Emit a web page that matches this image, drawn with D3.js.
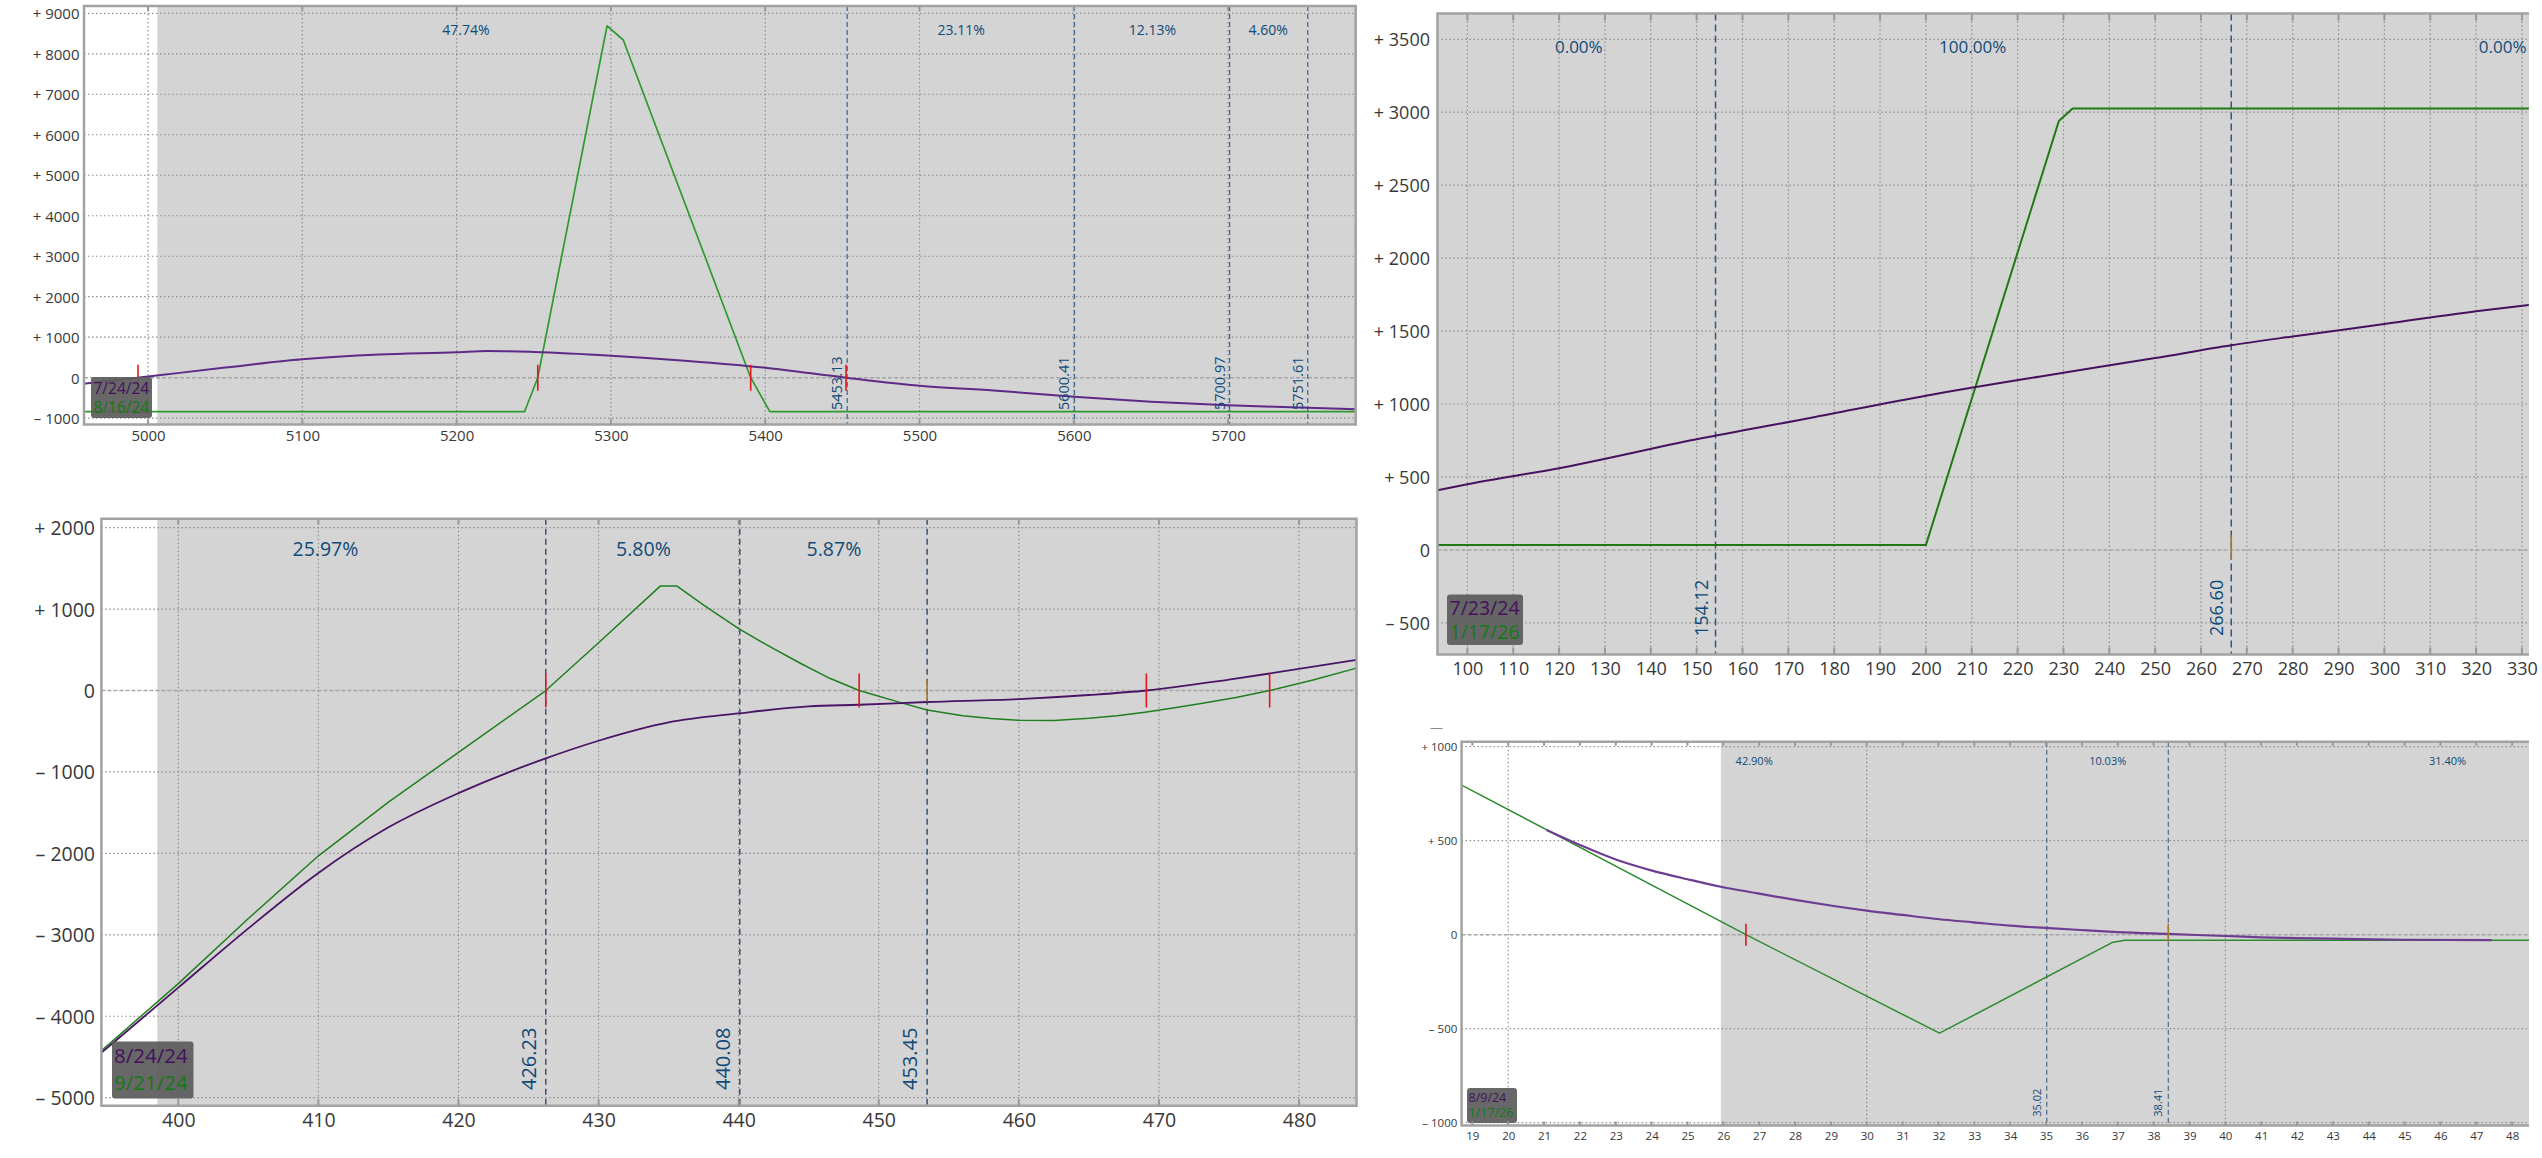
<!DOCTYPE html>
<html><head><meta charset="utf-8">
<script src="https://cdn.jsdelivr.net/npm/d3@7"></script>
<style>html,body{margin:0;padding:0;background:#fff;} svg{display:block}</style>
</head><body>
<svg id="c" width="2542" height="1158"></svg>
<script>
// ================= DATA =================
// Panel A (top-left)
const aXTicks = [5000,5100,5200,5300,5400,5500,5600,5700];
const aYTicks = [-1000,0,1000,2000,3000,4000,5000,6000,7000,8000,9000];
const aDates = ["7/24/24","8/16/24"];
const aPurple = [[4958.5,-150],[4993.5,0],[5000,28],[5050,250],[5100,454],[5150,570],[5200,627],[5220,660],[5250,635],[5300,545],[5350,415],[5400,247],[5452.4,0],[5500,-198],[5550,-321],[5600,-469],[5650,-592],[5700,-682],[5751.6,-741],[5782.7,-781]];
const aGreen = [[4958.5,-840],[5244,-840],[5252.6,0],[5297.5,8690],[5308,8340],[5390.6,0],[5403,-840],[5782.7,-840]];
const aStrikes = [5453.13,5600.41,5700.97,5751.61];
const aProbX = [5206,5527,5651,5726];
const aProbLabels = ["47.74%","23.11%","12.13%","4.60%"];
const aBreakevens = [4993.5,5252.6,5390.6,5452.4];
const aCurrent = [];

// Panel B (top-right)
const bXTicks = [100,110,120,130,140,150,160,170,180,190,200,210,220,230,240,250,260,270,280,290,300,310,320,330];
const bYTicks = [-500,0,500,1000,1500,2000,2500,3000,3500];
const bDates = ["7/23/24","1/17/26"];
const bPurple = [[93.5,409],[100,450],[120,560],[150,758],[175,906],[200,1057],[225,1189],[250,1315],[266.6,1403],[280,1463],[300,1548],[320,1636],[331.5,1678]];
const bGreen = [[93.5,33],[200,33],[229,2940],[232,3025],[331.5,3025]];
const bStrikes = [154.12,266.60];
const bProbX = [124.3,210.2,325.8];
const bProbLabels = ["0.00%","100.00%","0.00%"];
const bBreakevens = [];
const bCurrent = [266.6];

// Panel C (bottom-left)
const cXTicks = [400,410,420,430,440,450,460,470,480];
const cYTicks = [-5000,-4000,-3000,-2000,-1000,0,1000,2000];
const cDates = ["8/24/24","9/21/24"];
const cPurple = [[394.5,-4450],[400,-3649],[405,-2921],[410,-2240],[415,-1680],[420,-1260],[426.23,-833],[430,-617],[435,-392],[440,-281],[445,-195],[448.6,-175],[453.45,-141],[460,-105],[465,-55],[469.1,0],[475,135],[477.9,209],[484.1,375]];
const cGreen = [[394.5,-4425],[400,-3600],[405,-2800],[410,-2030],[415,-1370],[420,-760],[426.23,0],[430,586],[434.4,1282],[435.6,1282],[437.5,1050],[440,761],[442,560],[444.4,335],[446.5,150],[448.6,0],[451.5,-146],[453.45,-240],[456,-310],[458,-345],[460,-366],[462.5,-368],[465,-342],[467,-310],[469,-266],[471,-215],[473,-160],[475.5,-85],[477.9,0],[481,130],[484.1,275]];
const cStrikes = [426.23,440.08,453.45];
const cProbX = [410.5,433.2,446.8];
const cProbLabels = ["25.97%","5.80%","5.87%"];
const cBreakevens = [426.23,448.6,469.1,477.9];
const cCurrent = [453.45];

// Panel D (bottom-right)
const dXTicks = [19,20,21,22,23,24,25,26,27,28,29,30,31,32,33,34,35,36,37,38,39,40,41,42,43,44,45,46,47,48];
const dYTicks = [-1000,-500,0,500,1000];
const dDates = ["8/9/24","1/17/26"];
const dPurple = [[21.07,557],[22.0,477],[23.04,397],[24.01,341],[25.0,295],[25.93,255],[26.96,220],[28.0,185],[29.03,154],[30.0,128],[31.0,105],[32.03,82],[32.96,66],[33.99,48],[34.98,36],[35.96,25],[36.99,14],[38.38,4],[40.0,-7],[41.0,-14],[42.0,-18],[42.98,-21],[44.95,-27],[47.43,-29]];
const dGreen = [[18.7,796],[26.63,0],[32.03,-524],[36.84,-42],[37.2,-30],[48.5,-30]];
const dStrikes = [35.02,38.41];
const dProbX = [26.86,36.72,46.2];
const dProbLabels = ["42.90%","10.03%","31.40%"];
const dBreakevens = [26.63];
const dCurrent = [38.41];

// ================= DRAW =================
const FONT = "'Open Sans', 'DejaVu Sans', sans-serif";
const svg = d3.select("#c");
const defs = svg.append("defs");

function fmtSigned(v){ return v > 0 ? "+ " + v : (v < 0 ? "\u2013 " + (-v) : "0"); }

function drawPanel(c){
  const x = d3.scaleLinear().domain(c.xDom).range([c.L, c.R]);
  const y = d3.scaleLinear().domain(c.yDom).range([c.B, c.T]);
  const g = svg.append("g");
  const clipId = "clip-" + c.id;
  defs.append("clipPath").attr("id", clipId).append("rect")
    .attr("x", c.L).attr("y", c.T).attr("width", c.R - c.L).attr("height", c.B - c.T);
  const p = g.append("g").attr("clip-path", `url(#${clipId})`);

  p.append("rect").attr("x", c.L).attr("y", c.T).attr("width", c.R - c.L).attr("height", c.B - c.T).attr("fill", "#fff");
  p.append("rect").attr("x", x(c.greyFrom)).attr("y", c.T).attr("width", c.R - x(c.greyFrom)).attr("height", c.B - c.T).attr("fill", "#d4d4d4");

  // grid
  p.selectAll(null).data(c.xGrid).join("line")
    .attr("x1", d => x(d)).attr("x2", d => x(d)).attr("y1", c.T).attr("y2", c.B)
    .attr("stroke", "#8e8e8e").attr("stroke-width", 1.2).attr("stroke-dasharray", "1.5,2.5");
  p.selectAll(null).data(c.yTicks.filter(v => v !== 0)).join("line")
    .attr("x1", c.L).attr("x2", c.R).attr("y1", d => y(d)).attr("y2", d => y(d))
    .attr("stroke", "#8e8e8e").attr("stroke-width", 1.2).attr("stroke-dasharray", "1.5,2.5");
  p.append("line").attr("x1", c.L).attr("x2", c.R).attr("y1", y(0)).attr("y2", y(0))
    .attr("stroke", "#a6a6a6").attr("stroke-width", 1.5).attr("stroke-dasharray", "4,2");

  // strike lines
  p.selectAll(null).data(c.strikes).join("line")
    .attr("x1", d => x(d)).attr("x2", d => x(d)).attr("y1", c.T).attr("y2", c.B)
    .attr("stroke", c.strikeColor).attr("stroke-width", c.strikeW).attr("stroke-dasharray", c.strikeDash);

  // curves
  const lineG = d3.line().x(d => x(d[0])).y(d => y(d[1]));
  const lineP = d3.line().x(d => x(d[0])).y(d => y(d[1])).curve(d3.curveMonotoneX);
  p.append("path").datum(c.green).attr("d", lineG).attr("fill", "none")
    .attr("stroke", c.greenColor).attr("stroke-width", c.greenW).attr("stroke-linejoin", "round");
  p.append("path").datum(c.purple).attr("d", lineP).attr("fill", "none")
    .attr("stroke", c.purpleColor).attr("stroke-width", c.purpleW).attr("stroke-linejoin", "round");

  // breakeven / current markers
  p.selectAll(null).data(c.breakevens).join("line")
    .attr("x1", d => x(d)).attr("x2", d => x(d)).attr("y1", y(0) - c.beH).attr("y2", y(0) + c.beH)
    .attr("stroke", "#e2141c").attr("stroke-width", 1.6);
  p.selectAll(null).data(c.current).join("line")
    .attr("x1", d => x(d)).attr("x2", d => x(d)).attr("y1", y(0) - c.curUp).attr("y2", y(0) + c.curDown)
    .attr("stroke", "#a8782a").attr("stroke-width", 1.6);

  // probability labels
  p.selectAll(null).data(c.probX).join("text")
    .attr("x", d => x(d)).attr("y", c.probY).attr("text-anchor", "middle")
    .attr("fill", "#0f4a78").attr("font-family", FONT).attr("font-size", c.probFs)
    .text((d, i) => c.probLabels[i]);

  // strike labels
  p.selectAll(null).data(c.strikes).join("text")
    .attr("transform", d => `translate(${x(d) - c.slOff},${c.slBottom}) rotate(-90)`)
    .attr("fill", "#0f4a78").attr("font-family", FONT).attr("font-size", c.slFs)
    .text(d => d.toFixed(2));

  // legend
  g.append("rect").attr("x", c.leg[0]).attr("y", c.leg[1]).attr("width", c.leg[2]).attr("height", c.leg[3])
    .attr("rx", 3).attr("fill", "#5c5c5c").attr("opacity", 0.93);
  g.append("text").attr("x", c.leg[0] + c.legPad).attr("y", c.legBase[0]).attr("fill", "#44105f")
    .attr("font-family", FONT).attr("font-size", c.legFs).text(c.dates[0]);
  g.append("text").attr("x", c.leg[0] + c.legPad).attr("y", c.legBase[1]).attr("fill", "#137a13")
    .attr("font-family", FONT).attr("font-size", c.legFs).text(c.dates[1]);

  // border
  const bpath = c.closed
    ? `M${c.L},${c.T}H${c.R}V${c.B}H${c.L}Z`
    : `M${c.R},${c.T}H${c.L}V${c.B}H${c.R}`;
  g.append("path").attr("d", bpath).attr("fill", "none").attr("stroke", "#a2a2a2").attr("stroke-width", 2.5);

  // border ticks
  g.selectAll(null).data(c.xTicks).join("line")
    .attr("x1", d => x(d)).attr("x2", d => x(d)).attr("y1", c.T).attr("y2", c.T + c.tickLen)
    .attr("stroke", "#999").attr("stroke-width", 2);
  g.selectAll(null).data(c.xTicks).join("line")
    .attr("x1", d => x(d)).attr("x2", d => x(d)).attr("y1", c.B - c.tickLen).attr("y2", c.B)
    .attr("stroke", "#999").attr("stroke-width", 2);

  // axes labels
  const ax = g.append("g").attr("transform", `translate(0,${c.xLabY})`)
    .call(d3.axisBottom(x).tickValues(c.xTicks).tickSize(0).tickPadding(0).tickFormat(d3.format("d")));
  ax.select(".domain").remove();
  ax.attr("font-family", FONT).attr("font-size", c.tickFs);
  ax.selectAll("text").attr("y", 0).attr("dy", 0).attr("fill", "#383838");

  const ay = g.append("g").attr("transform", `translate(${c.yLabX},0)`)
    .call(d3.axisLeft(y).tickValues(c.yTicks).tickSize(0).tickPadding(0).tickFormat(fmtSigned));
  ay.select(".domain").remove();
  ay.attr("font-family", FONT).attr("font-size", c.yTickFs);
  ay.selectAll("text").attr("x", 0).attr("dy", "0.36em").attr("fill", "#383838");
}

drawPanel({
  id: "a", L: 84, R: 1355.7, T: 6, B: 424.5, xDom: [4958.5, 5782.7], yDom: [-1156, 9180],
  greyFrom: 5006, closed: true,
  xTicks: aXTicks, xGrid: aXTicks, yTicks: aYTicks, dates: aDates,
  purple: aPurple, green: aGreen, strikes: aStrikes, probX: aProbX, probLabels: aProbLabels,
  breakevens: aBreakevens, current: aCurrent,
  purpleColor: "#5e2a86", purpleW: 2, greenColor: "#2e9a2e", greenW: 1.7,
  strikeColor: "#3e6c95", strikeW: 1.3, strikeDash: "5,3",
  beH: 13, curUp: 10, curDown: 10,
  probY: 35, probFs: 14, slOff: 5, slBottom: 410, slFs: 14.5,
  leg: [91, 377, 61, 41], legPad: 2.5, legBase: [393.5, 413], legFs: 15.5,
  tickLen: 5, xLabY: 440.5, tickFs: 15, yLabX: 79.5, yTickFs: 15
});

drawPanel({
  id: "b", L: 1437.5, R: 2529, T: 13.6, B: 654.5, xDom: [93.48, 331.54], yDom: [-717, 3676],
  greyFrom: 93.48, closed: false,
  xTicks: bXTicks, xGrid: bXTicks, yTicks: bYTicks, dates: bDates,
  purple: bPurple, green: bGreen, strikes: bStrikes, probX: bProbX, probLabels: bProbLabels,
  breakevens: bBreakevens, current: bCurrent,
  purpleColor: "#46125f", purpleW: 2, greenColor: "#1f7a12", greenW: 2,
  strikeColor: "#2b5a85", strikeW: 1.5, strikeDash: "7,4",
  beH: 13, curUp: 15, curDown: 10,
  probY: 53, probFs: 17, slOff: 8, slBottom: 636, slFs: 18,
  leg: [1447, 594.5, 76, 50.5], legPad: 2.5, legBase: [615, 639], legFs: 19.5,
  tickLen: 7, xLabY: 674.7, tickFs: 18, yLabX: 1430, yTickFs: 18
});

drawPanel({
  id: "c", L: 101.4, R: 1356.5, T: 518.7, B: 1105.8, xDom: [394.51, 484.1], yDom: [-5100, 2110],
  greyFrom: 398.5, closed: true,
  xTicks: cXTicks, xGrid: cXTicks, yTicks: cYTicks, dates: cDates,
  purple: cPurple, green: cGreen, strikes: cStrikes, probX: cProbX, probLabels: cProbLabels,
  breakevens: cBreakevens, current: cCurrent,
  purpleColor: "#4a1466", purpleW: 1.8, greenColor: "#1f7f1f", greenW: 1.5,
  strikeColor: "#1f3f66", strikeW: 1.3, strikeDash: "6,4",
  beH: 17, curUp: 11, curDown: 11,
  probY: 556, probFs: 19.5, slOff: 10, slBottom: 1090, slFs: 20,
  leg: [112, 1041.5, 81.5, 57], legPad: 2, legBase: [1063, 1089.5], legFs: 20.5,
  tickLen: 6, xLabY: 1126.7, tickFs: 19.5, yLabX: 95, yTickFs: 19.5
});

drawPanel({
  id: "d", L: 1461.6, R: 2529, T: 741.7, B: 1125.5, xDom: [18.70, 48.47], yDom: [-1015, 1026.6],
  greyFrom: 25.93, closed: false,
  xTicks: dXTicks, xGrid: [20, 30, 40], yTicks: dYTicks, dates: dDates,
  purple: dPurple, green: dGreen, strikes: dStrikes, probX: dProbX, probLabels: dProbLabels,
  breakevens: dBreakevens, current: dCurrent,
  purpleColor: "#6e3d92", purpleW: 2.2, greenColor: "#2e8b2e", greenW: 1.5,
  strikeColor: "#4a6a8a", strikeW: 1.2, strikeDash: "5,3",
  beH: 11, curUp: 11, curDown: 7,
  probY: 764.5, probFs: 11, slOff: 6, slBottom: 1116.7, slFs: 11,
  leg: [1467, 1088, 50, 35], legPad: 1.5, legBase: [1101.5, 1117], legFs: 12.5,
  tickLen: 4, xLabY: 1140, tickFs: 11.5, yLabX: 1457.3, yTickFs: 11.5
});

// small stray dash above panel D's axis
svg.append("text").attr("x", 1436.5).attr("y", 732).attr("text-anchor", "middle")
  .attr("fill", "#8a8a8a").attr("font-family", FONT).attr("font-size", 13).text("\u2014");
</script>
</body></html>
